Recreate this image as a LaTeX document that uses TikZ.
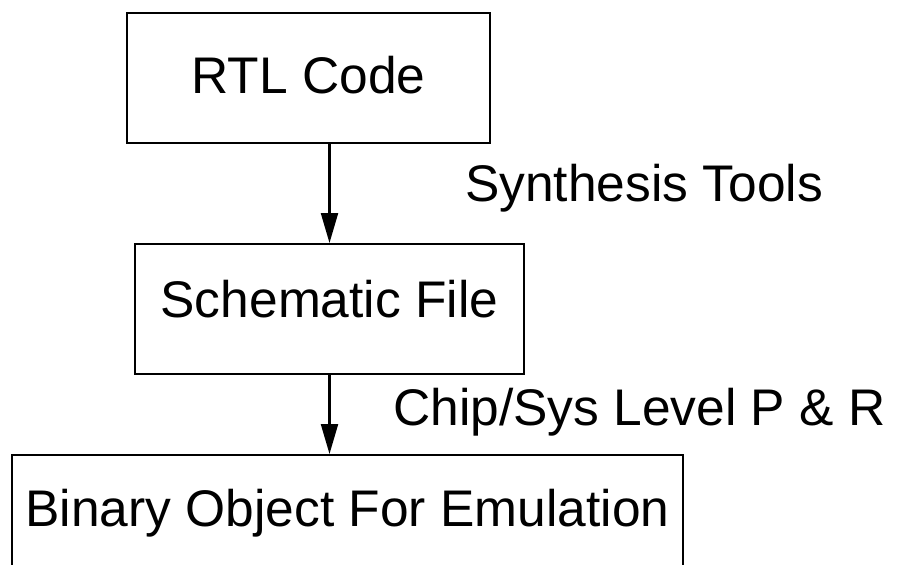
\documentclass[tikz,border=0pt]{standalone}
\usepackage{fontspec}
\setmainfont{Liberation Sans}
\usetikzlibrary{
  arrows.meta,
  positioning
}
\tikzset{
  stagebox/.style={draw, line width=2.2pt, inner xsep=0pt, text height=37pt,
    font=\fontsize{51.5}{56}\selectfont},
  flow/.style={line width=2.2pt, -{Triangle[length=30pt,width=17pt]}},
  toollabel/.style={anchor=base west, inner sep=0pt, font=\fontsize{51.5}{56}\selectfont}
}

\begin{document}
\begin{tikzpicture}[x=1pt, y=-1pt]
  \def\Xrtl{308.5};
  \def\Xsch{329.5};
  \def\Xbin{347.5};
  \useasboundingbox (0,0) rectangle (900,565);
  \fill[white] (0,0) rectangle (900,565);
  \clip (0,0) rectangle (900,565);

        \node (rtl) [stagebox, anchor=north, minimum width=363pt, inner ysep=43pt, text depth=7pt]
            at (\Xrtl, 12) {RTL Code};
        \node (schem) [stagebox, anchor=north, minimum width=389pt, inner ysep=36pt, text depth=21pt]
            at (\Xsch, 243) {Schematic File};
        \node (bin) [stagebox, anchor=north, minimum width=671pt, inner ysep=34pt, text depth=150pt]
            at (\Xbin, 454) {Binary Object For Emulation};

        \node (synth) [toollabel] at (465, 201) {Synthesis Tools};
        \node (pr) [toollabel] at (393, 425) {Chip/Sys Level P \& R};

	\draw[flow] (rtl.south -| schem.north) -- (schem.north);
	\draw[flow] (schem.south) -- (bin.north -| schem.south);

\end{tikzpicture}
\end{document}
